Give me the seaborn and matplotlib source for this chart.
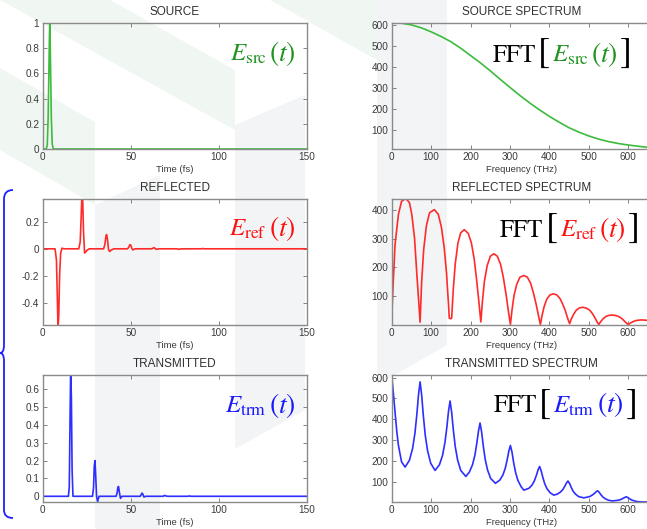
import matplotlib
matplotlib.use("Agg")
import numpy as np
import pandas as pd
import seaborn as sns
import matplotlib.pyplot as plt
from matplotlib.path import Path
from matplotlib.patches import PathPatch, Polygon
from matplotlib.offsetbox import TextArea, HPacker, AnchoredOffsetbox
from matplotlib.ticker import FuncFormatter

# ---------------- data ----------------
# Source pulse (time, fs)
src_t = [0, 2.0, 2.6, 3.1, 3.5, 3.8, 4.0, 4.2, 4.5, 4.9, 5.4, 6.0, 8.0, 150]
src_v = [0, 0, 0.03, 0.25, 0.6, 0.88, 1.0, 0.9, 0.62, 0.25, 0.04, 0, 0, 0]

# Reflected field
ref_t = [0, 7.0, 7.8, 8.3, 8.7, 9.1, 9.6, 10.2, 11.0, 12.0,
         20.5, 21.3, 21.9, 22.3, 22.7, 23.2, 23.8, 24.4, 25.2, 26.5,
         34.6, 35.3, 35.9, 36.3, 36.8, 37.4, 38.0, 39.0, 40.5,
         48.2, 48.9, 49.5, 50.0, 50.6, 51.2, 52.5,
         61.8, 62.6, 63.2, 63.8, 64.6, 66.0, 76.0, 77.5, 79.0, 90.0, 91.0, 92.0, 150]
ref_v = [0, 0, -0.08, -0.35, -0.58, -0.50, -0.2, -0.03, 0.005, 0,
         0, 0.05, 0.25, 0.40, 0.38, 0.12, -0.03, -0.025, -0.01, 0,
         0, 0.03, 0.09, 0.105, 0.07, -0.005, -0.02, -0.008, 0,
         0, 0.012, 0.03, 0.028, 0.005, -0.008, 0,
         0, 0.004, 0.009, 0.003, -0.004, 0, 0, -0.003, 0, 0, 0.002, 0, 0]

# Transmitted field
trm_t = [0, 14.6, 15.1, 15.5, 15.9, 16.3, 16.7, 17.2, 18.0,
         28.3, 28.9, 29.3, 29.7, 30.1, 30.6, 31.2, 32.0,
         41.7, 42.3, 42.7, 43.1, 43.6, 44.2, 45.0,
         55.4, 56.0, 56.4, 56.9, 57.5, 58.5,
         68.5, 69.2, 70.0, 71.0, 82.5, 83.3, 84.2, 150]
trm_v = [0, 0, 0.05, 0.40, 0.72, 0.55, 0.15, 0.0, 0,
         0, 0.05, 0.17, 0.20, 0.12, 0.0, -0.03, 0,
         0, 0.02, 0.05, 0.055, 0.02, -0.012, 0,
         0, 0.01, 0.018, 0.012, -0.004, 0,
         0, 0.005, 0.002, 0, 0, 0.002, 0, 0]

# Source spectrum (THz)
srcS_f = [0, 25, 50, 75, 100, 125, 150, 175, 200, 225, 250, 275, 300, 325, 350,
          375, 400, 425, 450, 475, 500, 525, 550, 575, 600, 625, 650, 660]
srcS_a = [612, 609, 601, 587, 568, 546, 521, 490, 455, 420, 382, 342, 303, 265, 229,
          196, 165, 137, 111, 90, 72, 57, 45, 36, 29, 23, 18, 17]

# Reflected spectrum
refS_f = [0, 4, 8.5, 17, 25, 36, 45, 51, 58, 64, 69, 72,
          76, 81, 88, 96, 108, 118, 126, 133, 139, 144, 146, 150, 152,
          156, 161, 168, 175, 184, 194, 202, 209, 215, 221, 226,
          230, 235, 242, 250, 259, 268, 276, 283, 290, 296, 301,
          305, 310, 317, 325, 335, 344, 352, 359, 366, 372, 377,
          381, 386, 393, 401, 410, 419, 427, 434, 441, 446, 451,
          455, 461, 468, 476, 485, 494, 502, 509, 515, 520, 525,
          530, 536, 543, 551, 560, 569, 577, 584, 590, 595, 600,
          605, 612, 620, 632, 645, 660]
refS_a = [23, 150, 279, 384, 430, 440, 425, 384, 300, 170, 70, 8,
          150, 260, 345, 390, 401, 385, 340, 270, 180, 70, 22, 20, 22,
          120, 210, 285, 320, 331, 318, 285, 230, 160, 80, 9,
          80, 150, 205, 238, 247, 238, 210, 165, 105, 45, 0,
          50, 100, 140, 165, 171, 165, 145, 112, 72, 32, 0,
          30, 60, 88, 103, 107, 103, 90, 70, 45, 22, 3,
          18, 35, 50, 58, 60, 57, 50, 38, 24, 11, 0,
          10, 20, 28, 32, 33, 31, 27, 20, 12, 5, 0,
          5, 10, 14, 16, 15, 12]

# Transmitted spectrum
trmS_f = [0, 4, 8.5, 13, 17, 25, 34,
          45, 53, 59, 64, 68, 72, 76, 80, 85, 91, 99, 110,
          121, 129, 135, 140, 144, 148, 152, 156, 161, 167, 175, 188,
          197, 205, 211, 216, 220, 224, 228, 232, 237, 243, 251, 263,
          274, 282, 288, 293, 297, 301, 305, 309, 314, 320, 328, 335,
          348, 356, 362, 367, 371, 375, 379, 383, 388, 394, 402, 411,
          420, 428, 434, 439, 443, 447, 451, 455, 460, 466, 474, 487,
          495, 503, 509, 514, 518, 522, 526, 530, 535, 541, 549, 559,
          568, 576, 582, 587, 591, 595, 599, 603, 608, 614, 622, 635, 660]
trmS_a = [612, 530, 434, 340, 275, 195, 170,
          203, 260, 334, 428, 519, 580, 516, 422, 324, 248, 188, 154,
          181, 227, 288, 364, 438, 488, 434, 354, 270, 205, 154, 125,
          146, 182, 228, 287, 343, 382, 339, 275, 208, 156, 115, 92,
          107, 132, 165, 207, 247, 274, 242, 194, 145, 106, 76, 59,
          68, 84, 105, 131, 156, 173, 152, 122, 90, 65, 46, 35,
          40, 50, 62, 78, 93, 103, 91, 73, 54, 40, 28, 22,
          25, 29, 36, 43, 51, 56, 49, 38, 27, 18, 11, 7,
          9, 11, 15, 20, 24, 27, 23, 18, 12, 8, 4, 2, 2]

time_ticks = [0, 50, 100, 150]
freq_ticks = [0, 100, 200, 300, 400, 500, 600]
src_yticks = [0, 0.2, 0.4, 0.6, 0.8, 1]
ref_yticks = [-0.4, -0.2, 0, 0.2]
trm_yticks = [0, 0.1, 0.2, 0.3, 0.4, 0.5, 0.6]
srcS_yticks = [100, 200, 300, 400, 500, 600]
refS_yticks = [100, 200, 300, 400]
trmS_yticks = [100, 200, 300, 400, 500, 600]

titles = ["SOURCE", "SOURCE SPECTRUM", "REFLECTED", "REFLECTED SPECTRUM",
          "TRANSMITTED", "TRANSMITTED SPECTRUM"]

# ---------------- style ----------------
sns.set_theme(style="white")
plt.rcParams['font.family'] = ['Liberation Sans', 'DejaVu Sans']
plt.rcParams['mathtext.fontset'] = 'stix'

GREEN, GREEN_T = '#3cbb3c', '#1f921f'
RED, RED_T = '#ff2b2b', '#ff1010'
BLUE, BLUE_T = '#2e2eff', '#1a1aff'

W, H = 647, 529
fig = plt.figure(figsize=(W / 100, H / 100), dpi=100, facecolor='white')


def fx(px):
    return px / W


def fy(py):
    return 1 - py / H


def add_axes(x0, x1, y0, y1):
    return fig.add_axes([fx(x0), fy(y1), (x1 - x0) / W, (y1 - y0) / H])


# faint slide watermark
wm_green = '#f0f7f2'
wm_gray = '#f3f4f5'
shapes = [
    ([(0, 0), (110, 0), (235, 70), (235, 130)], wm_green),
    ([(0, 68), (95, 122), (95, 205), (0, 150)], wm_green),
    ([(270, 0), (377, 0), (377, 60)], wm_green),
    ([(95, 205), (160, 175), (160, 529), (95, 529)], wm_gray),
    ([(235, 125), (305, 95), (305, 410), (235, 449)], wm_gray),
    ([(377, 0), (447, 0), (447, 345), (377, 385)], wm_gray),
]
for pts, col in shapes:
    fig.add_artist(Polygon([(fx(x), fy(y)) for x, y in pts], closed=True,
                           facecolor=col, edgecolor='none',
                           transform=fig.transFigure, zorder=-10))

LX0, LX1 = 42.7, 306.7
RX0, RX1 = 391.7, 652.0
ROWS = [(23, 149), (199, 324.5), (375, 502)]

fmt = FuncFormatter(lambda v, p: f'{v:g}')


def style(ax, xlim, ylim, xticks, yticks, title, xlabel):
    ax.set_facecolor('none')
    ax.set_xlim(*xlim)
    ax.set_ylim(*ylim)
    ax.set_xticks(xticks)
    ax.set_yticks(yticks)
    ax.xaxis.set_major_formatter(fmt)
    ax.yaxis.set_major_formatter(fmt)
    ax.tick_params(direction='in', length=3, width=0.6, color='#6f6f6f',
                   labelsize=7.2, labelcolor='#3a3a3a', top=True, right=True,
                   bottom=True, left=True, pad=2.5)
    for s in ax.spines.values():
        s.set_visible(True)
        s.set_color('#8a8a8a')
        s.set_linewidth(1.0)
    ax.set_title(title, fontsize=8.5, color='#303030', pad=5.5)
    ax.set_xlabel(xlabel, fontsize=6.8, color='#3a3a3a', labelpad=2)
    ax.set_ylabel('')


def e_group(sub, color):
    parts = [
        TextArea(r'$E_{\mathrm{' + sub + r'}}$', textprops=dict(fontsize=18, color=color)),
        TextArea(r'$(t)$', textprops=dict(fontsize=20, color=color)),
    ]
    return HPacker(children=parts, align='baseline', pad=0, sep=1.5)


def place(ax, box, x, y):
    anc = AnchoredOffsetbox(loc='lower right', child=box, pad=0, borderpad=0,
                            frameon=False, bbox_to_anchor=(x, y),
                            bbox_transform=ax.transAxes)
    ax.add_artist(anc)


def e_label(ax, sub, color, x, y):
    place(ax, e_group(sub, color), x, y)


def fft_label(ax, sub, color, x, y):
    serif = ['STIXGeneral', 'Liberation Serif']
    parts = [
        TextArea('FFT', textprops=dict(fontsize=18, color='black', family=serif)),
        TextArea('[', textprops=dict(fontsize=26, color='black', family=serif)),
        e_group(sub, color),
        TextArea(']', textprops=dict(fontsize=26, color='black', family=serif)),
    ]
    box = HPacker(children=parts, align='baseline', pad=0, sep=1.5)
    place(ax, box, x, y)


panels = [
    # (col, row, x, y, color, xlim, ylim, xticks, yticks, xlabel)
    (0, 0, src_t, src_v, GREEN, (0, 150), (0, 1), time_ticks, src_yticks, 'Time (fs)'),
    (1, 0, srcS_f, srcS_a, GREEN, (0, 660), (10, 610), freq_ticks, srcS_yticks, 'Frequency (THz)'),
    (0, 1, ref_t, ref_v, RED, (0, 150), (-0.556, 0.366), time_ticks, ref_yticks, 'Time (fs)'),
    (1, 1, refS_f, refS_a, RED, (0, 660), (0, 438), freq_ticks, refS_yticks, 'Frequency (THz)'),
    (0, 2, trm_t, trm_v, BLUE, (0, 150), (-0.032, 0.68), time_ticks, trm_yticks, 'Time (fs)'),
    (1, 2, trmS_f, trmS_a, BLUE, (0, 660), (2, 613), freq_ticks, trmS_yticks, 'Frequency (THz)'),
]

axes = []
for i, (col, row, xs, ys, color, xlim, ylim, xt, yt, xl) in enumerate(panels):
    y0, y1 = ROWS[row]
    ax = add_axes(LX0, LX1, y0, y1) if col == 0 else add_axes(RX0, RX1, y0, y1)
    df = pd.DataFrame({'x': xs, 'y': ys})
    sns.lineplot(data=df, x='x', y='y', ax=ax, color=color, linewidth=1.2,
                 estimator=None, sort=False)
    style(ax, xlim, ylim, xt, yt, titles[i], xl)
    axes.append(ax)

e_label(axes[0], 'src', GREEN_T, 0.959, 0.643)
e_label(axes[2], 'ref', RED_T, 0.959, 0.649)
e_label(axes[4], 'trm', BLUE_T, 0.959, 0.646)
fft_label(axes[1], 'src', GREEN_T, 0.923, 0.627)
fft_label(axes[3], 'ref', RED_T, 0.954, 0.635)
fft_label(axes[5], 'trm', BLUE_T, 0.946, 0.642)

# blue curly brace on the left
bv = [(13, 190), (4, 190), (4, 199), (4, 345), (4, 353), (0, 353),
      (4, 353), (4, 361), (4, 510), (4, 518), (13, 518)]
bc = [Path.MOVETO, Path.CURVE3, Path.CURVE3, Path.LINETO, Path.CURVE3, Path.CURVE3,
      Path.CURVE3, Path.CURVE3, Path.LINETO, Path.CURVE3, Path.CURVE3]
brace = PathPatch(Path([(fx(x), fy(y)) for x, y in bv], bc), facecolor='none',
                  edgecolor='#2020ff', linewidth=1.3, transform=fig.transFigure)
fig.add_artist(brace)

fig.savefig('out.png', dpi=100, facecolor='white')
